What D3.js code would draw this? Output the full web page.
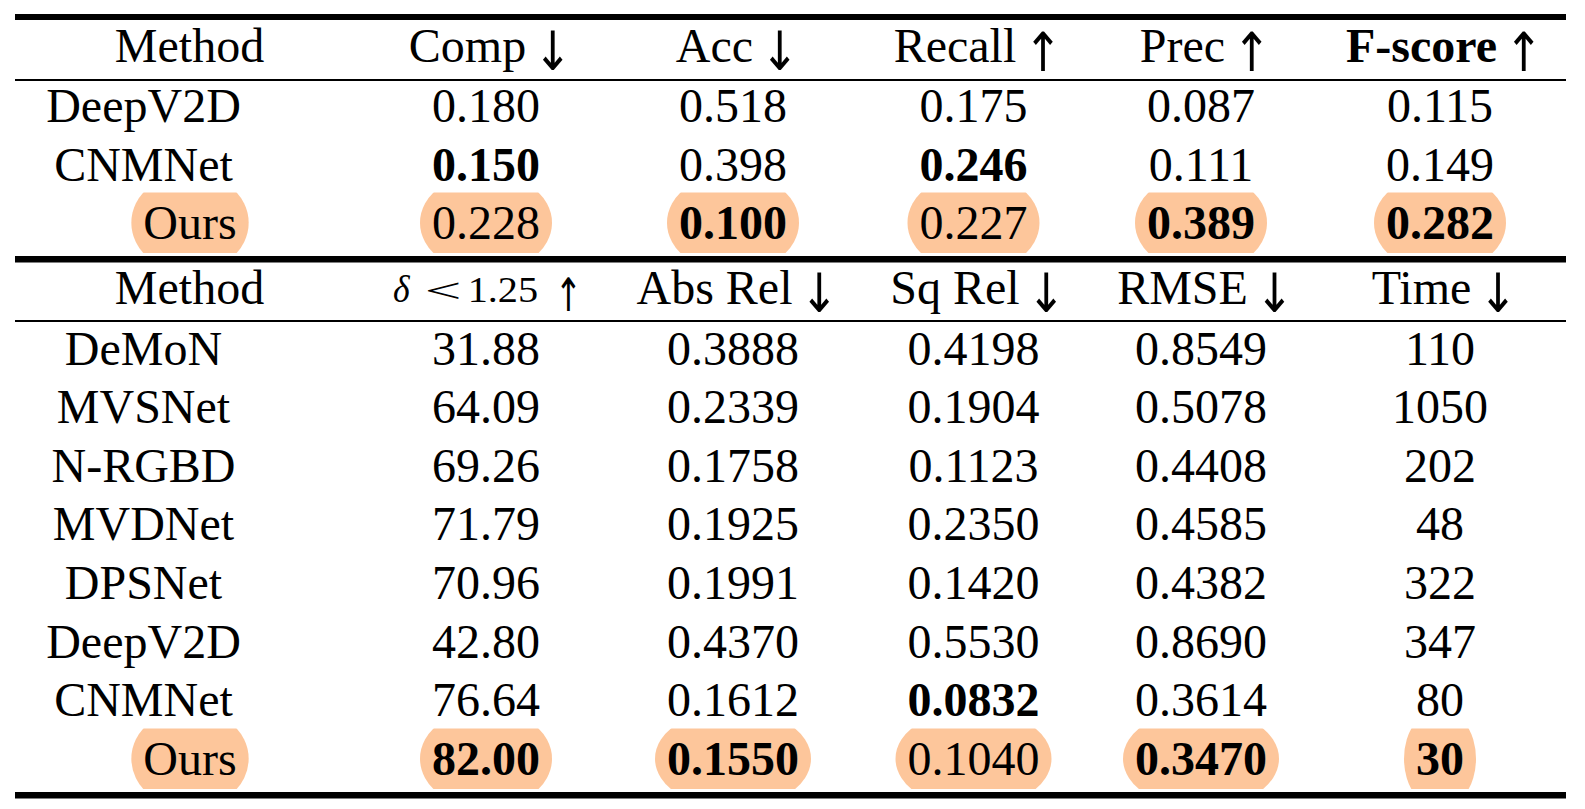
<!DOCTYPE html>
<html>
<head>
<meta charset="utf-8">
<script src="https://cdn.jsdelivr.net/npm/d3@7"></script>
<style>
  html, body { margin: 0; padding: 0; background: #ffffff; }
  svg { display: block; }
</style>
</head>
<body>
<svg id="chart" width="1585" height="809"></svg>
<script>
// ---------- DATA ----------
const topMethods = ["DeepV2D", "CNMNet", "Ours"];
const topColumns = ["Comp ↓", "Acc ↓", "Recall ↑", "Prec ↑", "F-score ↑"];
const compVals   = ["0.180", "0.150", "0.228"];
const accVals    = ["0.518", "0.398", "0.100"];
const recallVals = ["0.175", "0.246", "0.227"];
const precVals   = ["0.087", "0.111", "0.389"];
const fscoreVals = ["0.115", "0.149", "0.282"];
const topBest    = ["CNMNet", "Ours", "CNMNet", "Ours", "Ours"]; // bold cell per column

const bottomMethods = ["DeMoN", "MVSNet", "N-RGBD", "MVDNet", "DPSNet", "DeepV2D", "CNMNet", "Ours"];
const bottomColumns = ["δ < 1.25 ↑", "Abs Rel ↓", "Sq Rel ↓", "RMSE ↓", "Time ↓"];
const deltaVals  = ["31.88", "64.09", "69.26", "71.79", "70.96", "42.80", "76.64", "82.00"];
const absRelVals = ["0.3888", "0.2339", "0.1758", "0.1925", "0.1991", "0.4370", "0.1612", "0.1550"];
const sqRelVals  = ["0.4198", "0.1904", "0.1123", "0.2350", "0.1420", "0.5530", "0.0832", "0.1040"];
const rmseVals   = ["0.8549", "0.5078", "0.4408", "0.4585", "0.4382", "0.8690", "0.3614", "0.3470"];
const timeVals   = ["110", "1050", "202", "48", "322", "347", "80", "30"];
const bottomBest = ["Ours", "Ours", "CNMNet", "Ours", "Ours"];

const highlightMethod = "Ours";
const headerLabel = "Method";
const boldHeaders = ["F-score ↑"];

// ---------- LAYOUT ----------
const FAMILY = "'Liberation Serif', 'Times New Roman', serif";
const ARROW_FAMILY = "'Noto Sans', 'DejaVu Sans', sans-serif";
const FS = 48;
const HL = "#FDC69B";
const svg = d3.select("#chart");
svg.append("rect").attr("width", 1585).attr("height", 809).attr("fill", "#fff");

const ctx = document.createElement("canvas").getContext("2d");
function measure(str, size, weight, style, family) {
  ctx.font = (style || "normal") + " " + (weight || "normal") + " " + size + "px " + (family || FAMILY);
  return ctx.measureText(str);
}

const colKeys = ["method", "c0", "c1", "c2", "c3", "c4"];
const xCol = d3.scaleOrdinal().domain(colKeys).range([143.5, 486, 733, 973.5, 1201, 1440]);
const methodHeaderX = 189.5;
const highlightNameX = 190;

const yTop = d3.scalePoint().domain(topMethods).range([122, 239]);
const yBottom = d3.scalePoint().domain(bottomMethods).range([364.5, 775]);
const topHeaderY = 61.5, bottomHeaderY = 303.5;

const xLeft = 15, xRight = 1566;
const rules = [
  { y: 17, w: 6 },
  { y: 80, w: 2 },
  { y: 259.3, w: 6.5 },
  { y: 321, w: 2 },
  { y: 795.3, w: 6.5 }
];
svg.selectAll("line.rule").data(rules).enter().append("line")
  .attr("class", "rule")
  .attr("x1", xLeft).attr("x2", xRight)
  .attr("y1", d => d.y).attr("y2", d => d.y)
  .attr("stroke", "#000").attr("stroke-width", d => d.w);

const hlLayer = svg.append("g");
const textLayer = svg.append("g");
const defs = svg.append("defs");
let clipId = 0;

function addText(x, y, str, bold, anchor) {
  return textLayer.append("text")
    .attr("x", x).attr("y", y)
    .attr("text-anchor", anchor || "middle")
    .attr("font-family", FAMILY)
    .attr("font-size", FS)
    .attr("font-weight", bold ? "bold" : "normal")
    .attr("fill", "#000")
    .text(str);
}

// place a glyph so that its ink box fills [left,right] x [top,bottom]
function fitGlyph(str, left, right, top, bottom, size, style, family) {
  const m = measure(str, size, "normal", style, family);
  const iL = -m.actualBoundingBoxLeft, iR = m.actualBoundingBoxRight;
  const iT = -m.actualBoundingBoxAscent, iB = m.actualBoundingBoxDescent;
  const sx = (right - left) / (iR - iL), sy = (bottom - top) / (iB - iT);
  textLayer.append("text")
    .attr("x", 0).attr("y", 0)
    .attr("transform", `translate(${left - iL * sx},${top - iT * sy}) scale(${sx},${sy})`)
    .attr("font-family", family || FAMILY)
    .attr("font-size", size)
    .attr("font-style", style || "normal")
    .attr("fill", "#000")
    .text(str);
}

function addHighlight(textSel, x, baseline) {
  const w = textSel.node().getComputedTextLength();
  const top = baseline - 46.5, bottom = baseline + 14;
  const id = "hlclip" + (clipId++);
  defs.append("clipPath").attr("id", id)
    .append("rect").attr("x", x - w / 2 - 40).attr("y", top)
    .attr("width", w + 80).attr("height", bottom - top);
  hlLayer.append("ellipse")
    .attr("cx", x).attr("cy", (top + bottom) / 2)
    .attr("rx", w / 2 + 12).attr("ry", 50)
    .attr("fill", HL)
    .attr("clip-path", "url(#" + id + ")");
}

function drawHeader(c, x, yH) {
  const parts = c.split(" ");
  const arrow = parts[parts.length - 1];
  if (c.startsWith("δ")) {
    const b = yH - 2; // math baseline
    fitGlyph(parts[0], x - 92, x - 75, b - 26, b + 0.5, 40, "italic");
    fitGlyph(parts[1], x - 58, x - 27, b - 20, b - 2.5, 40);
    fitGlyph(parts[2], x - 15, x + 51, b - 23, b + 0.3, 36);
    fitGlyph(arrow, x + 75, x + 90, b - 25, b + 9.5, 48, "normal", ARROW_FAMILY);
    return;
  }
  const label = parts.slice(0, -1).join(" ");
  const bold = boldHeaders.indexOf(c) >= 0;
  const wL = measure(label, FS, bold ? "bold" : "normal").width;
  const gap = 16, aW = 21;
  const start = x - (wL + gap + aW) / 2;
  addText(start, yH, label, bold, "start");
  const aL = start + wL + gap;
  fitGlyph(arrow, aL, aL + aW, yH - 31, yH + 9.5, FS, "normal", ARROW_FAMILY);
}

function drawTable(methods, columns, valueCols, best, yScale, yH) {
  addText(methodHeaderX, yH, headerLabel, false);
  columns.forEach((c, i) => drawHeader(c, xCol("c" + i), yH));
  methods.forEach((m, r) => {
    const y = yScale(m);
    const isHL = m === highlightMethod;
    const nx = isHL ? highlightNameX : xCol("method");
    const nt = addText(nx, y, m, false);
    if (isHL) addHighlight(nt, nx, y);
    valueCols.forEach((vals, i) => {
      const x = xCol("c" + i);
      const t = addText(x, y, vals[r], best[i] === m);
      if (isHL) addHighlight(t, x, y);
    });
  });
}

drawTable(topMethods, topColumns, [compVals, accVals, recallVals, precVals, fscoreVals], topBest, yTop, topHeaderY);
drawTable(bottomMethods, bottomColumns, [deltaVals, absRelVals, sqRelVals, rmseVals, timeVals], bottomBest, yBottom, bottomHeaderY);
</script>
</body>
</html>
